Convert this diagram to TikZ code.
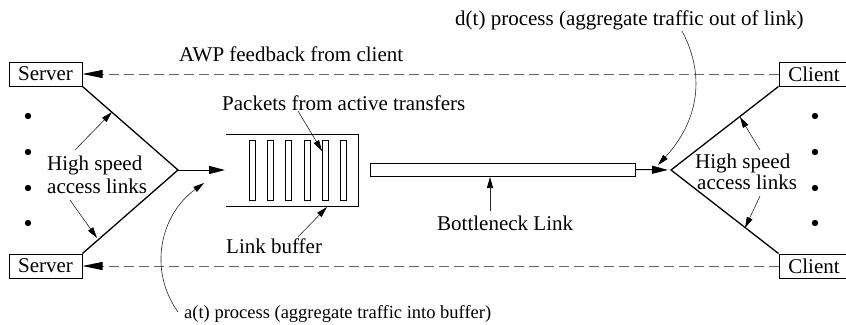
\documentclass[tikz,border=0pt]{standalone}
\usepackage{fontspec}
\setmainfont{Liberation Serif}
\usetikzlibrary{arrows.meta}
\newcommand\myfs{\fontsize{21}{23}\selectfont}
\newcommand\myfsa{\fontsize{18.5}{21}\selectfont}
\begin{document}
\begin{tikzpicture}[x=1pt,y=-1pt,
  box/.style={draw, line width=1pt, minimum height=24pt, inner sep=0pt, font=\myfs},
  lbl/.style={inner sep=0pt, anchor=base west, font=\myfs},
  link/.style={line width=1.3pt},
  thinarr/.style={line width=0.6pt, draw=black!85, -{Triangle[length=11pt,width=6pt,color=black]}},
  bigarr/.style={line width=1pt, -{Triangle[length=16pt,width=8pt]}},
  fb/.style={dash pattern=on 9.5pt off 5.5pt, draw=black!60, line width=0.9pt, -{Triangle[length=20pt,width=8pt,color=black]}},
  pkt/.style={draw, line width=0.9pt, minimum width=6pt, minimum height=60pt, inner sep=0pt},
  dot/.style={fill=black}]
\useasboundingbox (0,0) rectangle (846,324);
\clip (0,0) rectangle (846,324);

% end boxes
\node[box, minimum width=73pt] (s1) at (45.5,74) {Server};
\node[box, minimum width=73pt] (s2) at (45.5,266) {Server};
\node[box, minimum width=70pt] (c1) at (814,74) {Client};
\node[box, minimum width=70pt] (c2) at (814,266) {Client};

% apexes
\coordinate (apexL) at (178,170);
\coordinate (apexR) at (671,170);
\coordinate (bufin) at (225,170);

% access links
\draw[link] (s1.south east) -- (apexL) -- (s2.north east);
\draw[link] (c1.south west) -- (apexR) -- (c2.north west);

% dots
\foreach \y in {116,152,188,223} {
  \fill (28,\y) circle (3.2pt);
  \fill (815,\y) circle (3.2pt);
}

% feedback
\draw[fb] (c1.west) -- (s1.east);
\draw[fb] (c2.west) -- (s2.east);
\node[lbl] (awp) at (179,61.5) {AWP feedback from client};

% buffer
\draw[line width=1pt] (226,134) -- (358,134) -- (358,206) -- (226,206);
\foreach \i/\x in {1/252,2/270.5,3/288.5,4/307,5/325,6/343.5} {
  \node[pkt] (p\i) at (\x,170) {};
}
\draw[bigarr] (apexL) -- (bufin);

% bottleneck
\node[draw, line width=1pt, minimum width=265pt, minimum height=13pt, inner sep=0pt] (bn) at (502.5,169.5) {};
\draw[bigarr, shorten >=3pt] (bn.east) -- (apexR);

% labels
\node[lbl] (pk) at (222,110) {Packets from active transfers};
\node[lbl] (lb) at (226,253) {Link buffer};
\node[lbl] (bl) at (437,230) {Bottleneck Link};
\node[lbl] (hl1) at (47,170) {High speed};
\node[lbl] (hl2) at (47,193) {access links};
\node[lbl] (hr1) at (695,168.5) {High speed};
\node[lbl] (hr2) at (697,189) {access links};
\node[lbl] (dt) at (455,25) {d(t) process (aggregate traffic out of link)};
\node[lbl, font=\myfsa] (at) at (184,318) {a(t) process (aggregate traffic into buffer)};

% label arrows
\coordinate (hlA) at (75,150);  \coordinate (hlAt) at (112,112);
\coordinate (hlB) at (70,200);  \coordinate (hlBt) at (97,238);
\coordinate (hrA) at (760,150); \coordinate (hrAt) at (740,117);
\coordinate (hrB) at (760,196); \coordinate (hrBt) at (745,228);
\coordinate (pkA) at (298,111); \coordinate (pkAt) at (322,151);
\coordinate (lbA) at (298,237); \coordinate (lbAt) at (327,207);
\coordinate (blA) at (490,211); \coordinate (blAt) at (490,177);
\draw[thinarr] (hlA) -- (hlAt);
\draw[thinarr] (hlB) -- (hlBt);
\draw[thinarr] (hrA) -- (hrAt);
\draw[thinarr] (hrB) -- (hrBt);
\draw[thinarr] (pkA) -- (pkAt);
\draw[thinarr] (lbA) -- (lbAt);
\draw[thinarr] (blA) -- (blAt);

% process curves
\coordinate (dtA) at (682,31); \coordinate (dtT) at (658,165);
\coordinate (atA) at (178,312); \coordinate (atT) at (204,183);
\draw[thinarr] (dtA) .. controls (708,80) and (695,125) .. (dtT);
\draw[thinarr] (atA) .. controls (148,270) and (160,215) .. (atT);
\end{tikzpicture}
\end{document}
